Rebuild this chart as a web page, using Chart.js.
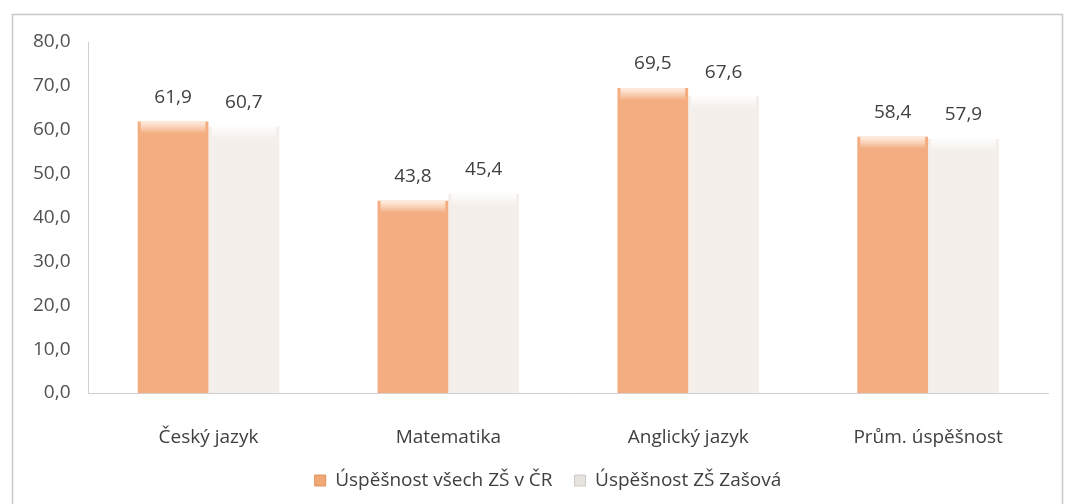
<!DOCTYPE html>
<html><head><meta charset="utf-8">
<script src="https://cdn.jsdelivr.net/npm/chart.js@4/dist/chart.umd.min.js"></script>
<style>html,body{margin:0;padding:0;background:#fff;}#wrap{position:absolute;left:0;top:0;width:1068px;height:504px;}</style>
</head><body><div id="wrap"><canvas id="c" width="1068" height="504"></canvas></div>
<script>
const categories = ["Český jazyk", "Matematika", "Anglický jazyk", "Prům. úspěšnost"];
const seriesNames = ["Úspěšnost všech ZŠ v ČR", "Úspěšnost ZŠ Zašová"];
const valuesCR = [61.9, 43.8, 69.5, 58.4];
const valuesZasova = [60.7, 45.4, 67.6, 57.9];
const yTicks = [0, 10, 20, 30, 40, 50, 60, 70, 80];

const FONT = "'Open Sans', 'DejaVu Sans', sans-serif";
const FS = 19;
const fmt = v => v.toFixed(1).replace('.', ',');

function orangeFill(ctx) {
  const c = ctx.chart;
  const el = ctx.element;
  if (!el || !c.chartArea || el.x === undefined) return '#f3ad80';
  const w = el.width || 70;
  const g = c.ctx.createLinearGradient(el.x - w / 2, 0, el.x + w / 2, 0);
  g.addColorStop(0, '#e58f58');
  g.addColorStop(0.07, '#f2a878');
  g.addColorStop(0.5, '#f5b48a');
  g.addColorStop(0.93, '#f2a878');
  g.addColorStop(1, '#e08b55');
  return g;
}
function whiteFill(ctx) {
  const c = ctx.chart;
  const el = ctx.element;
  if (!el || !c.chartArea || el.x === undefined) return '#f4efea';
  const w = el.width || 70;
  const g = c.ctx.createLinearGradient(el.x - w / 2, 0, el.x + w / 2, 0);
  g.addColorStop(0, '#e7e1db');
  g.addColorStop(0.07, '#f5f0eb');
  g.addColorStop(0.5, '#f9f6f3');
  g.addColorStop(0.95, '#f1ece7');
  g.addColorStop(1, '#aaa5a0');
  return g;
}

const frame = {
  id: 'frame',
  afterLayout(chart) {
    if (chart.legend) { chart.legend.left += 33; }
  },
  beforeDraw(chart) {
    const ctx = chart.ctx;
    ctx.save();
    ctx.strokeStyle = '#c8c8c8';
    ctx.lineWidth = 1.5;
    ctx.beginPath();
    ctx.moveTo(12.5, 504);
    ctx.lineTo(12.5, 14.5);
    ctx.lineTo(1062.5, 14.5);
    ctx.lineTo(1062.5, 504);
    ctx.stroke();
    ctx.restore();
  }
};

const labelsPlugin = {
  id: 'vals',
  afterDatasetsDraw(chart) {
    const ctx = chart.ctx;
    ctx.save();
    // soft top bevel on each bar
    chart.data.datasets.forEach((ds, i) => {
      chart.getDatasetMeta(i).data.forEach(bar => {
        const w = bar.width, x0 = bar.x - w / 2, y0 = bar.y;
        const g = ctx.createLinearGradient(0, y0, 0, y0 + 12);
        g.addColorStop(0, i === 0 ? 'rgba(255,240,228,0.95)' : 'rgba(255,255,255,0.95)');
        g.addColorStop(1, 'rgba(255,255,255,0)');
        ctx.fillStyle = g;
        ctx.fillRect(x0 + 3, y0, w - 6, 12);
      });
    });
    ctx.font = FS + "px " + FONT;
    ctx.fillStyle = '#404040';
    ctx.textAlign = 'center';
    ctx.textBaseline = 'middle';
    chart.data.datasets.forEach((ds, i) => {
      chart.getDatasetMeta(i).data.forEach((bar, j) => {
        ctx.fillText(fmt(ds.data[j]), bar.x, bar.y - 24);
      });
    });
    ctx.restore();
  }
};

new Chart(document.getElementById('c'), {
  type: 'bar',
  data: {
    labels: categories,
    datasets: [
      { label: seriesNames[0], data: valuesCR, backgroundColor: orangeFill, borderWidth: 0 },
      { label: seriesNames[1], data: valuesZasova, backgroundColor: whiteFill, borderWidth: 0 }
    ]
  },
  options: {
    responsive: false,
    animation: false,
    devicePixelRatio: 1,
    layout: { padding: { left: 15, right: 20, top: 42, bottom: 4 } },
    datasets: { bar: { categoryPercentage: 0.59, barPercentage: 1.0 } },
    plugins: {
      legend: {
        position: 'bottom',
        labels: {
          font: { size: FS, family: FONT },
          color: '#404040',
          boxWidth: 11, boxHeight: 11,
          padding: 22,
          generateLabels(chart) {
            return chart.data.datasets.map((d, i) => ({
              text: d.label,
              fillStyle: i === 0 ? '#f0a877' : '#e6e2de',
              strokeStyle: i === 0 ? '#e0925e' : '#cfcac5',
              lineWidth: 1,
              datasetIndex: i,
              fontColor: '#404040'
            }));
          }
        }
      },
      tooltip: { enabled: false }
    },
    scales: {
      x: {
        grid: { display: false, drawTicks: false },
        border: { color: '#d0d0d0', width: 1 },
        afterFit(axis) { axis.height = 56; },
        ticks: { font: { size: FS, family: FONT }, color: '#404040', padding: 33 }
      },
      y: {
        min: 0, max: 80,
        afterBuildTicks(axis) { axis.ticks = yTicks.map(v => ({ value: v })); },
        grid: { display: false, drawTicks: false },
        border: { color: '#d0d0d0', width: 1 },
        ticks: { font: { size: FS, family: FONT }, color: '#505050', padding: 18,
          callback: v => fmt(v) }
      }
    }
  },
  plugins: [frame, labelsPlugin]
});
</script>
</body></html>
